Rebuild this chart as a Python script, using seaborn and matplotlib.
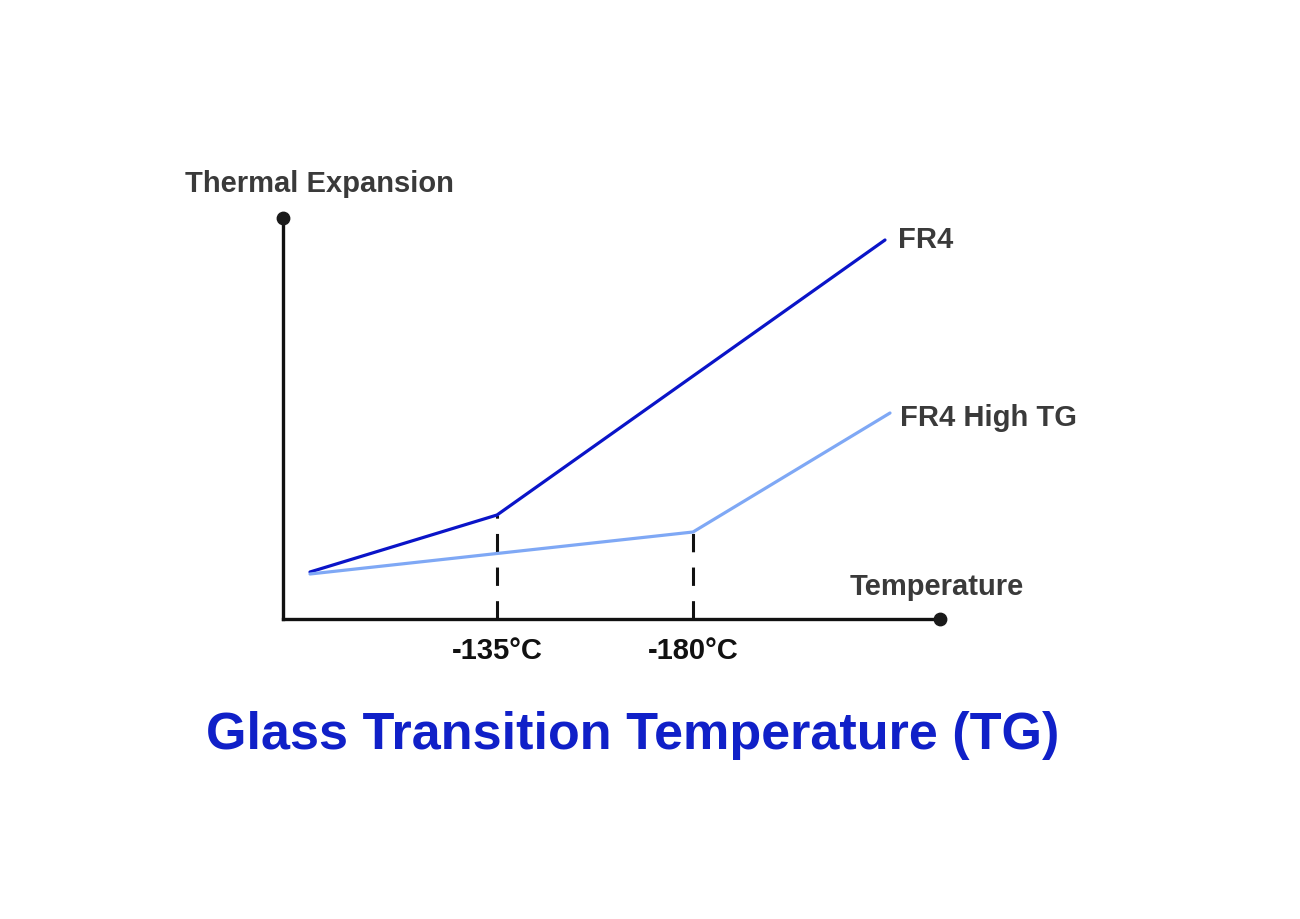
import pandas as pd
import seaborn as sns
import matplotlib.pyplot as plt

# chart values (in plot units: x from 0 to 657, y from 0 to 401)
temp_fr4 = [27, 214, 602]
exp_fr4 = [47, 104, 379]
temp_high_tg = [27, 410, 607]
exp_high_tg = [45, 87, 206]
tg_points = [214, 410]
tg_exp = [104, 87]
tg_labels = ["-135°C", "-180°C"]

df = pd.DataFrame({
    "temp": temp_fr4 + temp_high_tg,
    "exp": exp_fr4 + exp_high_tg,
    "material": ["FR4"] * 3 + ["FR4 High TG"] * 3,
})

sns.set_theme(style="white")
plt.rcParams["font.family"] = ["Liberation Sans", "DejaVu Sans"]

fig = plt.figure(figsize=(13, 9.19), dpi=100)
ax = fig.add_axes([283 / 1300, 300 / 919, 657 / 1300, 401 / 919])

palette = {"FR4": "#0a14c8", "FR4 High TG": "#7fa8f5"}
sns.lineplot(data=df, x="temp", y="exp", hue="material", palette=palette,
             linewidth=2.3, legend=False, ax=ax, sort=False)

# dashed drop lines at the glass transition points
for x, y in zip(tg_points, tg_exp):
    ax.plot([x, x], [0, y], color="#111111", lw=2.2, dashes=(6, 5), zorder=1)

ax.set_xlim(0, 657)
ax.set_ylim(0, 401)
for side in ["top", "right"]:
    ax.spines[side].set_visible(False)
for side in ["left", "bottom"]:
    ax.spines[side].set_color("#111111")
    ax.spines[side].set_linewidth(2.4)

ax.scatter([657, 0], [0, 401], s=80, color="#1a1a1a", clip_on=False, zorder=5)

ax.set_xticks(tg_points)
ax.set_xticklabels(tg_labels, fontsize=21, fontweight="bold", color="#111111")
ax.set_yticks([])
ax.tick_params(axis="x", length=0, pad=13)
ax.set_xlabel("")
ax.set_ylabel("")

grey = "#3a3a3a"
ax.text(-98, 435, "Thermal Expansion", fontsize=21, fontweight="bold", color=grey,
        va="center", ha="left", clip_on=False)
ax.text(567, 32, "Temperature", fontsize=21, fontweight="bold", color=grey,
        va="center", ha="left", clip_on=False)
ax.text(615, 379, "FR4", fontsize=21, fontweight="bold", color=grey,
        va="center", ha="left", clip_on=False)
ax.text(617, 201, "FR4 High TG", fontsize=21, fontweight="bold", color=grey,
        va="center", ha="left", clip_on=False)

fig.text(633 / 1300, 1 - 735 / 919, "Glass Transition Temperature (TG)",
         fontsize=37.5, fontweight="bold", color="#1020c8", ha="center", va="center")

fig.savefig("out.png", dpi=100)
